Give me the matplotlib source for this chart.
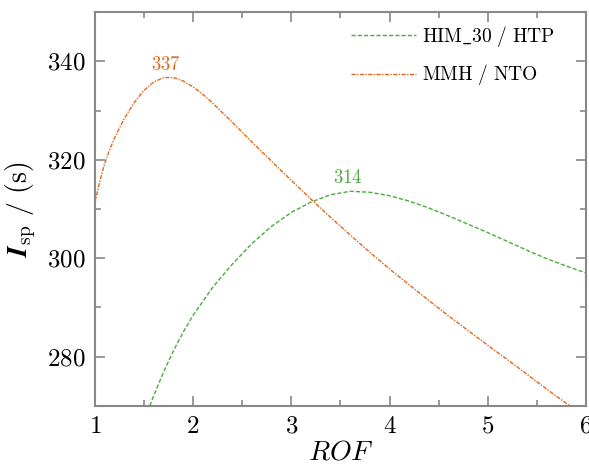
import matplotlib
matplotlib.use("Agg")
import matplotlib.pyplot as plt
from matplotlib.ticker import MultipleLocator

plt.rcParams["mathtext.fontset"] = "cm"
plt.rcParams["font.family"] = "serif"
plt.rcParams["font.serif"] = ["cmr10"]
plt.rcParams["axes.formatter.use_mathtext"] = True

# values
rof_mmh = [1.00, 1.05, 1.10, 1.15, 1.20, 1.30, 1.40, 1.50, 1.60, 1.70, 1.80, 1.90,
           2.00, 2.10, 2.20, 2.40, 2.60, 2.80, 3.00, 3.20, 3.40, 3.60, 3.80, 4.00,
           4.20, 4.40, 4.60, 4.80, 5.00, 5.20, 5.40, 5.60, 5.80, 5.85]
isp_mmh = [311.1, 315.6, 319.2, 322.0, 324.4, 328.4, 331.6, 334.1, 335.8, 336.7, 336.7, 336.0,
           334.8, 333.3, 331.5, 327.6, 323.6, 319.7, 315.8, 312.0, 308.3, 304.7, 301.2, 297.8,
           294.6, 291.4, 288.3, 285.3, 282.3, 279.4, 276.4, 273.4, 270.5, 269.8]

rof_him = [1.56, 1.60, 1.70, 1.80, 1.90, 2.00, 2.20, 2.40, 2.60, 2.80, 3.00, 3.20,
           3.40, 3.60, 3.80, 4.00, 4.20, 4.40, 4.60, 4.80, 5.00, 5.20, 5.40, 5.60,
           5.80, 6.00]
isp_him = [270.0, 272.1, 276.9, 281.2, 285.0, 288.4, 294.1, 298.8, 303.0, 306.5, 309.3, 311.4,
           312.9, 313.6, 313.4, 312.7, 311.6, 310.2, 308.6, 306.9, 305.2, 303.4, 301.6, 299.9,
           298.4, 297.0]

peaks = {"337": (1.72, 337.5), "314": (3.57, 314.4)}

px = 1 / 100
fig = plt.figure(figsize=(589 * px, 466 * px), dpi=100)
ax = fig.add_axes([0.161, 0.129, 0.834, 0.845])

green = "#4aab3c"
orange = "#e2671a"

ax.plot(rof_him, isp_him, color=green, lw=1.0, dashes=(3, 1.5),
        label=r"$\mathrm{HIM\_30\ /\ HTP}$")
ax.plot(rof_mmh, isp_mmh, color=orange, lw=1.0, dashes=(3, 1, 1, 1),
        label=r"$\mathrm{MMH\ /\ NTO}$")

ax.text(*peaks["337"], r"$\mathrm{337}$", color=orange,
        fontsize=13.5, ha="center", va="bottom")
ax.text(*peaks["314"], r"$\mathrm{314}$", color=green,
        fontsize=13.5, ha="center", va="bottom")

ax.set_xlim(1, 6)
ax.set_ylim(270, 350)
ax.xaxis.set_major_locator(MultipleLocator(1))
ax.xaxis.set_minor_locator(MultipleLocator(0.5))
ax.yaxis.set_major_locator(MultipleLocator(20))
ax.yaxis.set_minor_locator(MultipleLocator(10))
ax.tick_params(which="both", direction="in", top=True, right=True, color="#888888",
               labelsize=18, width=1.2)
ax.tick_params(which="major", length=7, pad=7)
ax.tick_params(which="minor", length=4)
for s in ax.spines.values():
    s.set_color("#888888")
    s.set_linewidth(1.5)

ax.set_xlabel(r"$ROF$", fontsize=20, labelpad=1)
ax.set_ylabel(r"$\mathbfit{I}_{\mathrm{sp}}\ /\ \mathrm{(s)}$", fontsize=20, labelpad=6)

ax.legend(loc="upper right", bbox_to_anchor=(0.953, 0.99), borderaxespad=0,
          frameon=False, fontsize=14, handlelength=3.35, handletextpad=0.3,
          labelspacing=0.7)

fig.savefig("out.png", dpi=100)
